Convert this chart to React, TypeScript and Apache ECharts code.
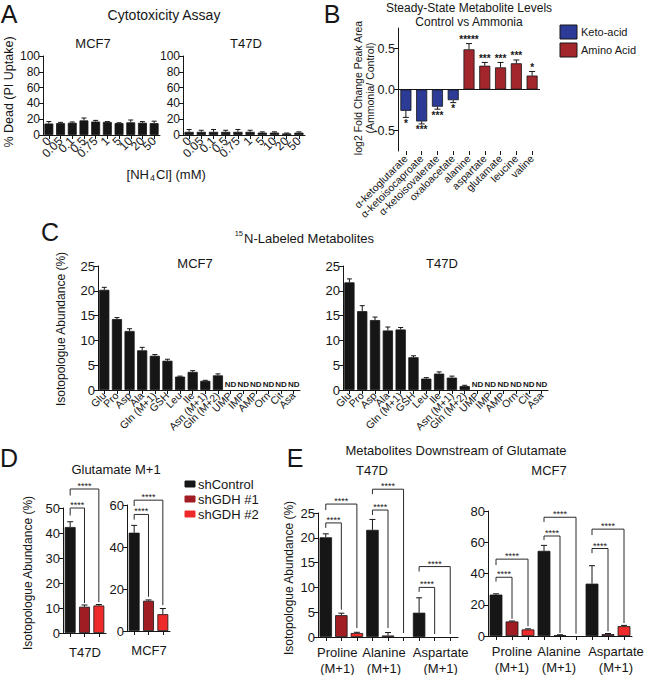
import React, { useEffect, useRef } from 'react';
import * as echarts from 'echarts';

const FONT = '"Liberation Sans", Arial, Helvetica, sans-serif';
const INK = '#161616';
const BAR_BLACK = '#161616';
const KETO_BLUE = '#2c3b95';
const AMINO_RED = '#a3262d';
const GDH1_RED = '#a11d24';
const GDH2_RED = '#ee2a2a';

// ---------- Panel A: cytotoxicity assay ----------
const nh4clDoses = ['0', '0.05', '0.1', '0.5', '0.75', '1', '5', '10', '20', '50'];
const deadMcf7 = [14.5, 15, 15.5, 18.5, 17, 16.5, 15, 16, 15.5, 15];
const deadMcf7Err = [2.5, 1, 1, 3, 1.5, 0.5, 0.5, 3, 1.5, 2.5];
const deadT47d = [4, 4, 4, 4, 4, 4, 3, 3, 2, 3];
const deadT47dErr = [3, 2, 3, 2, 3, 2, 1, 1, 0.5, 1];

// ---------- Panel B: steady-state metabolite levels ----------
const steadyMetabolites = ['α-ketoglutarate', 'α-ketoisocaproate', 'α-ketoisovalerate', 'oxaloacetate', 'alanine', 'aspartate', 'glutamate', 'leucine', 'valine'];
const steadyGroups = ['Keto-acid', 'Keto-acid', 'Keto-acid', 'Keto-acid', 'Amino Acid', 'Amino Acid', 'Amino Acid', 'Amino Acid', 'Amino Acid'];
const log2Change = [-0.26, -0.39, -0.21, -0.13, 0.49, 0.29, 0.27, 0.32, 0.17];
const log2ChangeErr = [0.08, 0.03, 0.03, 0.03, 0.07, 0.04, 0.06, 0.04, 0.05];
const log2ChangeSig = ['*', '***', '***', '*', '*****', '***', '***', '***', '*'];
const log2Ticks = [-0.5, 0, 0.5];

// ---------- Panel C: 15N-labeled metabolites ----------
const labeledMetabolites = ['Glu', 'Pro', 'Asp', 'Ala', 'Gln (M+1)', 'GSH', 'Leu', 'Ile', 'Asn (M+1)', 'Gln (M+2)', 'UMP', 'IMP', 'AMP', 'Orn', 'Cit', 'Asa'];
const labeledMcf7: (number | null)[] = [20.2, 14.3, 11.9, 8.0, 6.9, 5.9, 2.7, 3.65, 1.85, 2.95, null, null, null, null, null, null];
const labeledMcf7Err = [0.5, 0.3, 0.45, 0.6, 0.25, 0.3, 0.1, 0.25, 0.1, 0.3, 0, 0, 0, 0, 0, 0];
const labeledT47d: (number | null)[] = [21.7, 15.9, 14.1, 12.0, 12.2, 6.6, 2.3, 3.3, 2.5, 0.8, null, null, null, null, null, null];
const labeledT47dErr = [0.7, 1.1, 0.6, 0.7, 0.4, 0.3, 0.2, 0.35, 0.3, 0.15, 0, 0, 0, 0, 0, 0];

// ---------- Panel D: glutamate M+1 ----------
const conditions = ['shControl', 'shGDH #1', 'shGDH #2'];
const conditionColors = [BAR_BLACK, GDH1_RED, GDH2_RED];
const gluT47d = [42.4, 10.5, 11.0];
const gluT47dErr = [2.1, 0.7, 0.4];
const gluMcf7 = [46.8, 14.4, 8.0];
const gluMcf7Err = [3.5, 0.4, 2.7];
// brackets: [fromIndex, toIndex, lineY, leftLegY, rightLegY]
const gluT47dBrackets = [[0, 1, 50, 47, 12], [0, 2, 57.6, 55, 12.3]];
const gluMcf7Brackets = [[0, 1, 55.5, 53, 16.3], [0, 2, 62.3, 59.5, 12.3]];

// ---------- Panel E: downstream of glutamate ----------
const downstreamMetabolites = ['Proline', 'Alanine', 'Aspartate'];
const downstreamIsotopologue = '(M+1)';
const downT47dCtrl = [20.1, 21.6, 4.9];
const downT47dCtrlErr = [0.7, 2.1, 3.0];
const downT47dGdh1 = [4.4, 0.3, 0];
const downT47dGdh1Err = [0.4, 0.6, 0];
const downT47dGdh2 = [0.8, 0, 0];
const downT47dGdh2Err = [0.15, 0, 0];
const downMcf7Ctrl = [26.5, 54.5, 33.5];
const downMcf7CtrlErr = [0.5, 3.5, 11.5];
const downMcf7Gdh1 = [9.3, 0.5, 1.2];
const downMcf7Gdh1Err = [0.3, 0.3, 0.4];
const downMcf7Gdh2 = [4.2, 0, 6.3];
const downMcf7Gdh2Err = [0.4, 0, 0.5];
const downT47dBrackets = [
  [0, 1, 23, 22, 5.5], [0, 2, 26.8, 25.6, 1.8],
  [3, 4, 25.6, 24.6, 1.8], [3, 5, 29.8, 28.8, 0.8],
  [6, 7, 10, 9.1, 0.6], [6, 8, 14.2, 13.2, 0.6],
];
const downMcf7Brackets = [
  [0, 1, 37.6, 34.8, 11], [0, 2, 49.2, 45.4, 6.2],
  [3, 4, 64, 61.4, 2], [3, 5, 76, 73, 1.5],
  [6, 7, 56, 53, 3], [6, 8, 68.4, 64.6, 8.3],
];

const interleave = (a: number[], b: number[], c: number[]) => a.flatMap((_, i) => [a[i], b[i], c[i]]);
const downCats = downstreamMetabolites.flatMap((m) => conditions.map((c) => `${m} (M+1)|${c}`));

// ---------- helpers ----------
const lineStyle = { color: INK, width: 1 };

function grid(left: number, top: number, width: number, height: number) {
  return { left, top, width, height, containLabel: false, outerBoundsMode: 'none', show: false };
}

function valueAxis(gridIndex: number, min: number, max: number, interval: number, fontSize: number) {
  return {
    type: 'value', gridIndex, min, max, interval,
    axisLine: { show: true, lineStyle },
    axisTick: { show: true, length: 4, lineStyle },
    axisLabel: { show: true, color: INK, fontSize, fontFamily: FONT, margin: 3 },
    splitLine: { show: false },
  };
}

function categoryAxis(gridIndex: number, data: string[], label: any) {
  return {
    type: 'category', gridIndex, data,
    axisLine: { show: true, onZero: false, lineStyle },
    axisTick: { show: true, alignWithLabel: true, length: 4, lineStyle },
    axisLabel: { interval: 0, color: INK, fontFamily: FONT, ...label },
    splitLine: { show: false },
  };
}

// group labels for panel E, with small horizontal nudges (px) per group
function groupLabel(shifts: number[]) {
  const rich: any = {};
  shifts.forEach((d, g) => {
    rich['g' + g] = {
      fontSize: 13, lineHeight: 16, color: INK, fontFamily: FONT,
      padding: d < 0 ? [0, -2 * d, 0, 0] : [0, 0, 0, 2 * d],
    };
  });
  return {
    fontSize: 13, lineHeight: 16, margin: 7, rich,
    formatter: (_v: string, i: number) => {
      if (i % 3 !== 1) return '';
      const g = (i - 1) / 3;
      return `{g${g}|${downstreamMetabolites[g]}}\n{g${g}|${downstreamIsotopologue}}`;
    },
  };
}

function barSeries(idx: number, values: (number | null)[], colorOf: (i: number) => string, barWidth: string) {
  return {
    type: 'bar', xAxisIndex: idx, yAxisIndex: idx, barWidth, silent: true, z: 2,
    itemStyle: { borderColor: INK, borderWidth: 0.8 },
    data: values.map((v, i) =>
      v === null
        ? {
            value: 0,
            itemStyle: { borderWidth: 0, color: 'transparent' },
            label: { show: true, formatter: 'ND', position: 'top', distance: 2, fontSize: 8, fontWeight: 'bold', color: INK, fontFamily: FONT },
          }
        : { value: v, itemStyle: v === 0 ? { borderWidth: 0, color: colorOf(i) } : { color: colorOf(i) } }
    ),
  };
}

function errorSeries(idx: number, values: (number | null)[], errs: number[], cap: number) {
  const data: number[][] = [];
  values.forEach((v, i) => {
    if (v !== null && errs[i] > 0) data.push([i, v, errs[i]]);
  });
  return {
    type: 'custom', xAxisIndex: idx, yAxisIndex: idx, silent: true, z: 4,
    encode: { x: 0, y: 1 },
    data,
    renderItem: (_p: any, api: any) => {
      const x = api.value(0);
      const v = api.value(1);
      const e = api.value(2);
      const end = v < 0 ? v - e : v + e;
      const p0 = api.coord([x, v]);
      const p1 = api.coord([x, end]);
      return {
        type: 'group',
        children: [
          { type: 'line', shape: { x1: p0[0], y1: p0[1], x2: p1[0], y2: p1[1] }, style: { stroke: INK, lineWidth: 1 } },
          { type: 'line', shape: { x1: p1[0] - cap / 2, y1: p1[1], x2: p1[0] + cap / 2, y2: p1[1] }, style: { stroke: INK, lineWidth: 1 } },
        ],
      };
    },
  };
}

function bracketSeries(idx: number, brackets: number[][], fontSize: number) {
  return {
    type: 'custom', xAxisIndex: idx, yAxisIndex: idx, silent: true, z: 6,
    encode: { x: 0, y: 2 },
    data: brackets,
    renderItem: (_p: any, api: any) => {
      const a = api.coord([api.value(0), api.value(2)]);
      const b = api.coord([api.value(1), api.value(2)]);
      const l = api.coord([api.value(0), api.value(3)]);
      const r = api.coord([api.value(1), api.value(4)]);
      return {
        type: 'group',
        children: [
          {
            type: 'polyline',
            shape: { points: [[l[0], l[1]], [a[0], a[1]], [b[0], b[1]], [r[0], r[1]]] },
            style: { stroke: '#2a2a2a', fill: 'none', lineWidth: 1 },
          },
          {
            type: 'text', x: (a[0] + b[0]) / 2, y: a[1] + 1.5,
            style: { text: '****', fontSize, fontFamily: FONT, fill: INK, align: 'center', verticalAlign: 'bottom', textAlign: 'center', textVerticalAlign: 'bottom' },
          },
        ],
      };
    },
  };
}

function txt(text: string, x: number, y: number, fontSize: number, opts: any = {}) {
  const align = opts.align || 'center';
  return {
    type: 'text', x, y, rotation: opts.rotation || 0, silent: true, z: 10,
    style: {
      text, fontSize, fontFamily: FONT, fill: INK, fontWeight: opts.weight || 'normal',
      align, verticalAlign: 'middle', textAlign: align, textVerticalAlign: 'middle',
    },
  };
}

function vtxt(text: string, x: number, y: number, fontSize: number) {
  return txt(text, x, y, fontSize, { rotation: Math.PI / 2 });
}

function box(x: number, y: number, w: number, h: number, fill: string, stroke: string) {
  return { type: 'rect', silent: true, z: 10, shape: { x, y, width: w, height: h }, style: { fill, stroke, lineWidth: 1 } };
}

function buildOption() {
  const A1 = 0, A2 = 1, B = 2, C1 = 3, C2 = 4, D1 = 5, D2 = 6, E1 = 7, E2 = 8;

  const grids = [
    grid(43, 56, 117, 79),
    grid(183, 56, 122, 79),
    grid(398, 28, 142, 123),
    grid(98, 266, 202, 124),
    grid(343, 266, 205, 124),
    grid(63, 508, 43, 125),
    grid(127, 505, 43, 126),
    grid(318, 513, 140, 124),
    grid(488, 511, 144, 125),
  ];

  const aLabel = { rotate: 45, fontSize: 12, margin: 4 };
  const cLabel = { rotate: 45, fontSize: 10.5, margin: 4 };

  const bX = categoryAxis(B, steadyMetabolites, { rotate: 45, fontSize: 10.5, margin: 6 });
  (bX as any).axisLine = { show: false, onZero: false };

  const xAxis = [
    categoryAxis(A1, nh4clDoses, aLabel),
    categoryAxis(A2, nh4clDoses, aLabel),
    bX,
    categoryAxis(C1, labeledMetabolites, cLabel),
    categoryAxis(C2, labeledMetabolites, cLabel),
    categoryAxis(D1, conditions, { show: false }),
    categoryAxis(D2, conditions, { show: false }),
    categoryAxis(E1, downCats, groupLabel([-4, -4, 6])),
    categoryAxis(E2, downCats, groupLabel([0, -1, 8])),
  ];

  const yAxis = [
    valueAxis(A1, 0, 100, 20, 12),
    valueAxis(A2, 0, 100, 20, 12),
    {
      type: 'value', gridIndex: B, min: -0.75, max: 0.75,
      axisLine: { show: true, lineStyle },
      axisTick: { show: true, length: 4, lineStyle, customValues: log2Ticks },
      axisLabel: { show: true, color: INK, fontSize: 12.5, fontFamily: FONT, margin: 3, customValues: log2Ticks, formatter: (v: number) => v.toFixed(1) },
      splitLine: { show: false },
    },
    valueAxis(C1, 0, 25, 5, 13),
    valueAxis(C2, 0, 25, 5, 13),
    valueAxis(D1, 0, 50, 10, 13),
    valueAxis(D2, 0, 60, 20, 13),
    valueAxis(E1, 0, 25, 5, 13),
    valueAxis(E2, 0, 80, 20, 13),
  ];

  const black = () => BAR_BLACK;
  const byCondition = (i: number) => conditionColors[i % 3];

  const bBars: any = barSeries(B, log2Change, (i) => (steadyGroups[i] === 'Keto-acid' ? KETO_BLUE : AMINO_RED), '70%');
  bBars.markLine = {
    silent: true, symbol: ['none', 'none'], label: { show: false },
    lineStyle: { color: INK, width: 1, type: 'solid' },
    emphasis: { disabled: true },
    data: [{ yAxis: 0 }],
  };

  const bStars = {
    type: 'custom', xAxisIndex: B, yAxisIndex: B, silent: true, z: 6,
    encode: { x: 0, y: 1 },
    data: log2Change.map((v, i) => [i, v, log2ChangeErr[i]]),
    renderItem: (p: any, api: any) => {
      const v = api.value(1);
      const e = api.value(2);
      const end = v < 0 ? v - e : v + e;
      const pt = api.coord([api.value(0), end]);
      const va = v < 0 ? 'top' : 'bottom';
      return {
        type: 'text', x: pt[0], y: pt[1] + 1,
        style: {
          text: log2ChangeSig[p.dataIndex], fontSize: 10, fontWeight: 'bold', fontFamily: FONT, fill: INK,
          align: 'center', verticalAlign: va, textAlign: 'center', textVerticalAlign: va,
        },
      };
    },
  };

  const eT47d = interleave(downT47dCtrl, downT47dGdh1, downT47dGdh2);
  const eT47dErr = interleave(downT47dCtrlErr, downT47dGdh1Err, downT47dGdh2Err);
  const eMcf7 = interleave(downMcf7Ctrl, downMcf7Gdh1, downMcf7Gdh2);
  const eMcf7Err = interleave(downMcf7CtrlErr, downMcf7Gdh1Err, downMcf7Gdh2Err);

  const series: any[] = [
    barSeries(A1, deadMcf7, black, '76%'),
    errorSeries(A1, deadMcf7, deadMcf7Err, 5),
    barSeries(A2, deadT47d, black, '76%'),
    errorSeries(A2, deadT47d, deadT47dErr, 5),

    bBars,
    errorSeries(B, log2Change, log2ChangeErr, 6),
    bStars,

    barSeries(C1, labeledMcf7, black, '80%'),
    errorSeries(C1, labeledMcf7, labeledMcf7Err, 5),
    barSeries(C2, labeledT47d, black, '80%'),
    errorSeries(C2, labeledT47d, labeledT47dErr, 5),

    barSeries(D1, gluT47d, byCondition, '76%'),
    errorSeries(D1, gluT47d, gluT47dErr, 6),
    bracketSeries(D1, gluT47dBrackets, 9),
    barSeries(D2, gluMcf7, byCondition, '76%'),
    errorSeries(D2, gluMcf7, gluMcf7Err, 6),
    bracketSeries(D2, gluMcf7Brackets, 9),

    barSeries(E1, eT47d, byCondition, '80%'),
    errorSeries(E1, eT47d, eT47dErr, 6),
    bracketSeries(E1, downT47dBrackets, 9),
    barSeries(E2, eMcf7, byCondition, '80%'),
    errorSeries(E2, eMcf7, eMcf7Err, 6),
    bracketSeries(E2, downMcf7Brackets, 9),
  ];

  const graphic: any[] = [
    // panel letters
    txt('A', 9, 14, 25), txt('B', 332, 14, 25), txt('C', 50, 232, 25), txt('D', 9, 458, 25), txt('E', 295, 458, 25),

    // A
    txt('Cytotoxicity Assay', 164, 15, 14),
    txt('MCF7', 93, 43, 13), txt('T47D', 246, 43, 13),
    vtxt('% Dead (PI Uptake)', 9, 92, 12.5),
    txt('[NH', 149, 174, 13, { align: 'right' }),
    txt('4', 150, 178, 9, { align: 'left' }),
    txt('Cl] (mM)', 156, 174, 13, { align: 'left' }),

    // B
    txt('Steady-State Metabolite Levels', 469, 8, 12),
    txt('Control vs Ammonia', 469, 22, 12),
    vtxt('log2 Fold Change Peak Area', 358, 88, 10.5),
    vtxt('(Ammonia/ Control)', 370, 88, 10.5),
    box(560, 25, 17, 14, KETO_BLUE, INK), txt('Keto-acid', 581, 32, 11, { align: 'left' }),
    box(560, 43, 17, 14, AMINO_RED, INK), txt('Amino Acid', 581, 50, 11, { align: 'left' }),

    // C
    txt('15', 243, 233, 7.5, { align: 'right' }),
    txt('N-Labeled Metabolites', 244, 238, 13, { align: 'left' }),
    txt('MCF7', 195, 263, 13), txt('T47D', 442, 263, 13),
    vtxt('Isotopologue Abundance (%)', 61, 329, 12),

    // D
    txt('Glutamate M+1', 116, 469, 13),
    vtxt('Isotopologue Abundance (%)', 28, 573, 12),
    txt('T47D', 85, 652, 13), txt('MCF7', 149, 650, 13),
    box(185, 481, 10, 6, BAR_BLACK, BAR_BLACK), txt('shControl', 198, 484, 13, { align: 'left' }),
    box(185, 496, 10, 6, GDH1_RED, GDH1_RED), txt('shGDH #1', 198, 499, 13, { align: 'left' }),
    box(185, 511, 10, 6, GDH2_RED, GDH2_RED), txt('shGDH #2', 198, 514, 13, { align: 'left' }),

    // E
    txt('Metabolites Downstream of Glutamate', 456, 450, 13),
    txt('T47D', 372, 470, 13), txt('MCF7', 549, 470, 13),
    vtxt('Isotopologue Abundance (%)', 289, 578, 12),
  ];

  return {
    animation: false,
    backgroundColor: '#ffffff',
    textStyle: { fontFamily: FONT },
    grid: grids,
    xAxis,
    yAxis,
    series,
    graphic,
  };
}

export default function App() {
  const ref = useRef<HTMLDivElement>(null);
  useEffect(() => {
    if (!ref.current) return;
    const chart = echarts.init(ref.current, null, { renderer: 'svg' });
    chart.setOption(buildOption() as any);
    return () => chart.dispose();
  }, []);
  return (
    <div
      ref={ref}
      style={{ position: 'absolute', left: 0, top: 0, width: 645, height: 675, background: '#ffffff' }}
    />
  );
}
